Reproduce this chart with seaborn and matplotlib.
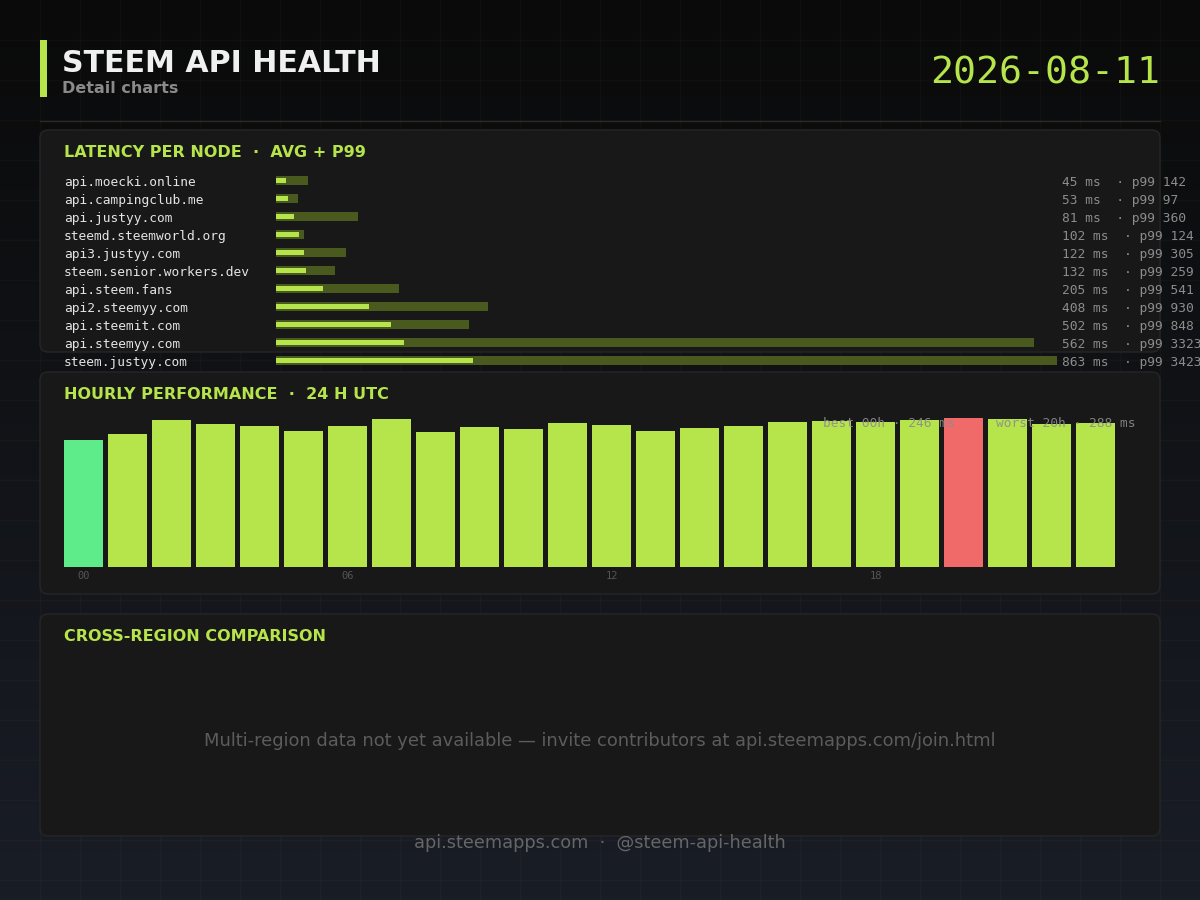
import numpy as np
import matplotlib
matplotlib.use("Agg")
import matplotlib.pyplot as plt
from matplotlib.patches import FancyBboxPatch, Rectangle
import seaborn as sns

# data
HOSTS = ["api.moecki.online", "api.campingclub.me", "api.justyy.com",
         "steemd.steemworld.org", "api3.justyy.com", "steem.senior.workers.dev",
         "api.steem.fans", "api2.steemyy.com", "api.steemit.com",
         "api.steemyy.com", "steem.justyy.com"]
AVG_MS = [45, 53, 81, 102, 122, 132, 205, 408, 502, 562, 863]
P99_MS = [142, 97, 360, 124, 305, 259, 541, 930, 848, 3323, 3423]

HOURS = ["%02d" % h for h in range(24)]
HOURLY_MS = [246, 258, 285, 277, 273, 263, 273, 287, 260, 271, 267, 279,
             275, 263, 269, 273, 281, 283, 281, 285, 288, 287, 277, 279]
HOUR_TICKS = ["00", "06", "12", "18"]

DATE = "2026-08-11"
TITLE = "STEEM API HEALTH"
SUBTITLE = "Detail charts"
NO_REGION = "Multi-region data not yet available \u2014 invite contributors at api.steemapps.com/join.html"
FOOTER = "api.steemapps.com  \u00b7  @steem-api-health"

LIME = "#b6e44b"
OLIVE = "#4a5a1f"
GREEN = "#5eeb8a"
RED = "#f06a6a"
PANEL = "#181818"
MONO = "DejaVu Sans Mono"
SANS = "DejaVu Sans"

sns.set_theme(style="dark")
plt.rcParams["font.family"] = [SANS]

W, H = 1200, 900
fig = plt.figure(figsize=(12, 9), dpi=100)


def px_axes(x0, y0, x1, y1):
    return fig.add_axes([x0 / W, 1 - y1 / H, (x1 - x0) / W, (y1 - y0) / H])


def T(x, y, s, **kw):
    return fig.text(x / W, 1 - y / H, s, **kw)


# background: gradient, faint grid, panels
bg = fig.add_axes([0, 0, 1, 1])
bg.set_xlim(0, W)
bg.set_ylim(H, 0)
bg.axis("off")
top = np.array([10, 10, 10]) / 255
bot = np.array([25, 29, 38]) / 255
t = np.linspace(0, 1, 256)[:, None]
grad = top + (bot - top) * t
bg.imshow(grad[:, None, :].repeat(2, axis=1), extent=[0, W, H, 0], aspect="auto", zorder=0)
for g in range(40, W, 40):
    bg.axvline(g, color="#9acd32", alpha=0.035, lw=1, zorder=1)
for g in range(40, H, 40):
    bg.axhline(g, color="#9acd32", alpha=0.035, lw=1, zorder=1)

bg.add_patch(Rectangle((40, 40), 7, 57, color=LIME, lw=0, zorder=3))
bg.plot([40, 1160], [120.5, 120.5], color="#2a2a2a", lw=1, zorder=3)

for y0, y1 in [(130, 352), (372, 594), (614, 836)]:
    bg.add_patch(FancyBboxPatch((40, y0), 1120, y1 - y0,
                                boxstyle="round,pad=0,rounding_size=8",
                                fc=PANEL, ec="#262626", lw=1, zorder=2))

# header
T(62, 72, TITLE, color="#f0f0f0", fontsize=21.6, fontweight="bold", va="baseline")
T(62, 93, SUBTITLE, color="#8a8a8a", fontsize=11.5, fontweight="bold", va="baseline")
T(1160, 83, DATE, color=LIME, fontsize=27.5, family=MONO, ha="right", va="baseline")

# panel titles
T(64, 157, "LATENCY PER NODE  \u00b7  AVG + P99", color=LIME, fontsize=11.5,
  fontweight="bold", va="baseline")
T(64, 399, "HOURLY PERFORMANCE  \u00b7  24 H UTC", color=LIME, fontsize=11.5,
  fontweight="bold", va="baseline")
T(64, 641, "CROSS-REGION COMPARISON", color=LIME, fontsize=11.5,
  fontweight="bold", va="baseline")

# latency per node
lat = px_axes(276, 171.5, 1057, 369.5)
sns.barplot(x=P99_MS, y=HOSTS, orient="h", color=OLIVE, saturation=1,
            width=0.5, linewidth=0, ax=lat)
sns.barplot(x=AVG_MS, y=HOSTS, orient="h", color=LIME, saturation=1,
            width=0.32, linewidth=0, ax=lat)
lat.set_xlim(0, max(P99_MS))
lat.set_ylim(len(HOSTS) - 0.5, -0.5)
lat.axis("off")
lat.patch.set_alpha(0)

for i, (h, a, p) in enumerate(zip(HOSTS, AVG_MS, P99_MS)):
    yc = 180.5 + 18 * i + 2
    T(64, yc, h, color="#e4e4e4", fontsize=9.3, family=MONO, va="center")
    T(1062, yc, "%d ms  \u00b7 p99 %d" % (a, p), color="#8c8c8c", fontsize=9.3,
      family=MONO, va="center")

# hourly performance
best = int(np.argmin(HOURLY_MS))
worst = int(np.argmax(HOURLY_MS))
colors = [GREEN if i == best else RED if i == worst else LIME for i in range(24)]
hr = px_axes(61.5, 418, 1117.5, 567)
sns.barplot(x=HOURS, y=HOURLY_MS, hue=HOURS, palette=colors, saturation=1,
            width=39 / 44, linewidth=0, legend=False, ax=hr)
hr.set_xlim(-0.5, 23.5)
hr.set_ylim(0, max(HOURLY_MS))
hr.patch.set_alpha(0)
for s in hr.spines.values():
    s.set_visible(False)
hr.grid(False)
hr.set_yticks([])
hr.set_xticks([HOURS.index(k) for k in HOUR_TICKS])
hr.set_xticklabels(HOUR_TICKS, color="#555555", fontsize=7.5, family=MONO)
hr.tick_params(axis="x", length=0, pad=3)
hr.set_xlabel("")
hr.set_ylabel("")

T(823, 424, "best %sh \u00b7 %d ms" % (HOURS[best], HOURLY_MS[best]),
  color="#8c8c8c", alpha=0.9, fontsize=9.3, family=MONO, va="center")
T(1136, 424, "worst %sh \u00b7 %d ms" % (HOURS[worst], HOURLY_MS[worst]),
  color="#8c8c8c", alpha=0.9, fontsize=9.3, family=MONO, va="center", ha="right")

# cross-region
T(600, 741, NO_REGION, color="#5c5c5c", fontsize=12.9, ha="center", va="center")

# footer
T(600, 843, FOOTER, color="#666666", fontsize=12.8, ha="center", va="center")

fig.savefig("out.png", dpi=100, facecolor="#0b0b0b")
